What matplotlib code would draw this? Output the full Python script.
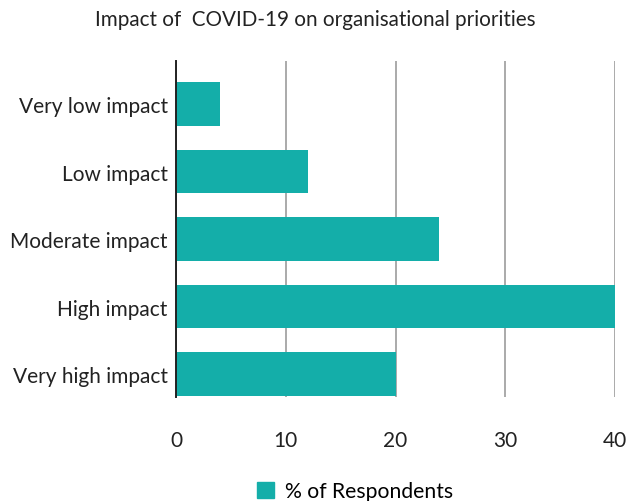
import matplotlib
matplotlib.use("Agg")
import matplotlib.pyplot as plt
from matplotlib.patches import Patch

categories = ["Very low impact", "Low impact", "Moderate impact", "High impact", "Very high impact"]
values = [4, 12, 24, 40, 20]
xticks = [0, 10, 20, 30, 40]
title = "Impact of  COVID-19 on organisational priorities"
series_name = "% of Respondents"

plt.rcParams['font.family'] = ['Lato', 'DejaVu Sans']
teal = "#14aea9"

fig = plt.figure(figsize=(6.31, 5.02), dpi=100)
ax = fig.add_axes([176/631, 1-398/502, (615-176)/631, (398-62)/502])

ax.barh(range(len(categories)), values, height=0.64, color=teal, zorder=3)
ax.set_yticks(range(len(categories)))
ax.set_yticklabels(categories, fontsize=15, color="#222222")
ax.set_ylim(4.34, -0.637)
ax.set_xlim(0, 40)
ax.set_xticks(xticks)
ax.set_xticklabels([str(t) for t in xticks], fontsize=15, color="#222222")
ax.tick_params(axis='x', length=0, pad=24)
ax.tick_params(axis='y', length=0, pad=6)
ax.grid(axis='x', color="#aaaaaa", linewidth=1.4, zorder=0)
for s in ['top', 'right', 'bottom']:
    ax.spines[s].set_visible(False)
ax.spines['left'].set_color("#222222")
ax.spines['left'].set_linewidth(1.4)
ax.spines['left'].set_zorder(4)

fig.text(0.5, 1-20/502, title, ha='center', va='center', fontsize=14.9, color="#222222")
fig.legend(handles=[Patch(color=teal, label=series_name)], loc='center',
           bbox_to_anchor=(355/631, 1-492/502), frameon=False, fontsize=15.2,
           handlelength=0.8, handleheight=0.8, handletextpad=0.5)

fig.savefig("out.png", dpi=100)
